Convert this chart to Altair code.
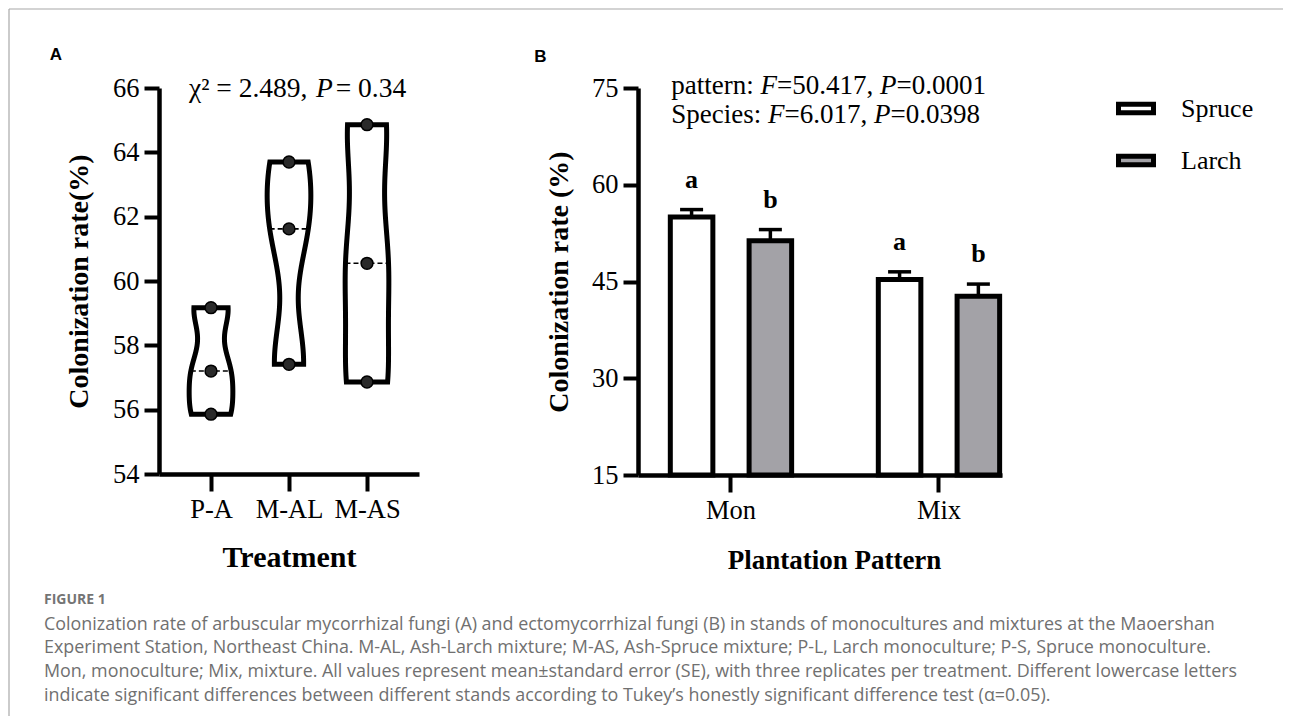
import json
import altair as alt
import pandas as pd

# ---------------- data ----------------
# Panel A: colonization rate (%) of arbuscular mycorrhizal fungi, three replicates per treatment
treatments = ["P-A", "M-AL", "M-AS"]
pa_vals = [55.86, 57.2, 59.17]
mal_vals = [57.41, 61.62, 63.7]
mas_vals = [56.86, 60.55, 64.86]
a_ticks = [54, 56, 58, 60, 62, 64, 66]
chi2_text = "2.489"
chi2_p = "0.34"

# Panel B: ectomycorrhizal colonization (mean, SE)
patterns = ["Mon", "Mix"]
species = ["Spruce", "Larch"]
spruce_mean = [55.0, 45.3]
spruce_se = [1.15, 1.2]
larch_mean = [51.3, 42.7]
larch_se = [1.75, 1.9]
spruce_letters = ["a", "a"]
larch_letters = ["b", "b"]
b_ticks = [15, 30, 45, 60, 75]
pattern_F, pattern_P = "50.417", "0.0001"
species_F, species_P = "6.017", "0.0398"

caption_head = "FIGURE 1"
caption_lines = [
    "Colonization rate of arbuscular mycorrhizal fungi (A) and ectomycorrhizal fungi (B) in stands of monocultures and mixtures at the Maoershan",
    "Experiment Station, Northeast China. M-AL, Ash-Larch mixture; M-AS, Ash-Spruce mixture; P-L, Larch monoculture; P-S, Spruce monoculture.",
    "Mon, monoculture; Mix, mixture. All values represent mean\u00b1standard error (SE), with three replicates per treatment. Different lowercase letters",
    "indicate significant differences between different stands according to Tukey\u2019s honestly significant difference test (\u03b1=0.05).",
]

# ---------------- styling helpers ----------------
SERIF = "Liberation Serif"
SANS = "Liberation Sans"
one = pd.DataFrame({"k": [0]})

# approximate Times / Liberation Serif advance widths (em/1000) for inline annotation pieces
_W = {" ": 250, ",": 250, ".": 250, ":": 278, "=": 564, "\u00b2": 300, "\u03c7": 500,
      "S": 556, "a": 444, "c": 444, "e": 444, "i": 278, "n": 500, "p": 500, "r": 333,
      "s": 389, "t": 278}
_W_IT = {"F": 611, "P": 611}


def text_width(s, size, italic=False):
    table = _W_IT if italic else _W
    return sum(table.get(ch, 500) for ch in s) * size / 1000.0


def txt(text, x, y, size, font=SERIF, weight="normal", style="normal", align="left",
        baseline="alphabetic", color="black", line_height=None):
    kw = dict(font=font, fontSize=size, fontWeight=weight, fontStyle=style, align=align,
              baseline=baseline, color=color)
    if line_height:
        kw["lineHeight"] = line_height
    return alt.Chart(one).mark_text(**kw).encode(
        x=alt.value(x), y=alt.value(y), text=alt.value(text))


def inline(pieces, x0, y, size, italic_gap=0.0):
    """pieces: list of (text, italic). Lay them out left to right."""
    out, x = [], x0
    for s, it in pieces:
        out.append(txt(s, x, y, size, style="italic" if it else "normal"))
        x += text_width(s, size, it) + (italic_gap if it else 0.0)
    return out


def y_axis(title, values, tp):
    return alt.Axis(title=title, values=values, grid=False, format="d",
                    domainColor="black", domainWidth=4.5,
                    tickColor="black", tickWidth=4, tickSize=15,
                    labelFont=SERIF, labelFontSize=26.5, labelColor="black", labelPadding=5,
                    titleFont=SERIF, titleFontSize=28, titleFontWeight="bold",
                    titleColor="black", titlePadding=tp)


def x_axis_common(**kw):
    return dict(grid=False, domainColor="black", domainWidth=4.5,
                tickColor="black", tickWidth=4, tickSize=17, labelAngle=0,
                labelFont=SERIF, labelFontSize=26.5, labelColor="black", labelPadding=5,
                labelOverlap=False, titleFont=SERIF, titleFontWeight="bold",
                titleColor="black", **kw)


# ---------------- Panel A (violins) ----------------
groups = [pa_vals, mal_vals, mas_vals]
dfA = pd.DataFrame([
    {"treatment": t, "idx": i + 1, "value": v}
    for i, (t, vals) in enumerate(zip(treatments, groups)) for v in vals
])

xA_scale = alt.Scale(domain=[1 / 3, len(treatments) + 2 / 3], nice=False, zero=False)
yA_scale = alt.Scale(domain=[a_ticks[0], a_ticks[-1]], nice=False, zero=False)
xA_axis = alt.Axis(values=list(range(1, len(treatments) + 1)),
                   labelExpr=f"{json.dumps(treatments)}[datum.value - 1]",
                   title="Treatment", titleFontSize=30, titlePadding=20,
                   **x_axis_common())
yA_axis = y_axis("Colonization rate(%)", a_ticks, 19)

HALF = 0.28
layersA = []
rulesA = []
for t, vals in zip(treatments, groups):
    lo, hi = min(vals), max(vals)
    bw = 0.22 * (hi - lo)
    base = (alt.Chart(dfA)
            .transform_filter(alt.datum.treatment == t)
            .transform_joinaggregate(med="median(value)", groupby=["treatment", "idx"])
            .transform_density("value", groupby=["treatment", "idx", "med"], extent=[lo, hi],
                               steps=240, bandwidth=bw, as_=["value", "density"])
            .transform_joinaggregate(dmax="max(density)")
            .transform_calculate(left=f"datum.idx - datum.density / datum.dmax * {HALF}",
                                 right=f"datum.idx + datum.density / datum.dmax * {HALF}"))
    area = base.mark_area(orient="horizontal", fill="white", stroke="black",
                          strokeWidth=5).encode(
        y=alt.Y("value:Q", scale=yA_scale, axis=yA_axis),
        x=alt.X("left:Q", scale=xA_scale, axis=xA_axis),
        x2="right:Q")
    med = (base.transform_calculate(dist="abs(datum.value - datum.med)")
           .transform_joinaggregate(mind="min(dist)")
           .transform_filter("datum.dist == datum.mind")
           .mark_rule(color="black", strokeWidth=1.6, strokeDash=[5, 3])
           .encode(y=alt.Y("med:Q", scale=yA_scale, axis=yA_axis),
                   x=alt.X("left:Q", scale=xA_scale, axis=xA_axis),
                   x2="right:Q"))
    layersA.append(area)
    rulesA.append(med)

pointsA = alt.Chart(dfA).mark_point(filled=True, fill="#2a2a2a", stroke="black",
                                    strokeWidth=1.5, size=140, opacity=1).encode(
    x=alt.X("idx:Q", scale=xA_scale, axis=xA_axis),
    y=alt.Y("value:Q", scale=yA_scale, axis=yA_axis))

annA = inline([("\u03c7\u00b2 = " + chi2_text + ", ", False), ("P", True),
               (" = " + chi2_p, False)], 30, 9.4, 27.5, italic_gap=3)
annA.append(txt("A", -103, -33, 17, font=SANS, weight="bold", align="center",
                baseline="middle"))

frame = [
    alt.Chart(one).mark_rule(color="#a8a8a8", strokeWidth=1.2).encode(
        x=alt.value(-150), x2=alt.value(1124), y=alt.value(-79)),
    alt.Chart(one).mark_rule(color="#a8a8a8", strokeWidth=1.2).encode(
        x=alt.value(-150), y=alt.value(-79), y2=alt.value(628)),
]

caption = [
    txt(caption_head, -115, 512, 14, font="Open Sans", weight="bold", baseline="middle",
        color="#747474"),
    txt(caption_lines, -115, 541.5, 17.9, font="Open Sans", color="#707070",
        line_height=23.7),
]

panelA = alt.layer(*layersA, *rulesA, pointsA, *annA, *frame, *caption).properties(
    width=260, height=386)

# ---------------- Panel B (bars) ----------------
rowsB = []
for j, p in enumerate(patterns):
    rowsB.append({"pattern": p, "species": species[0], "mean": spruce_mean[j],
                  "se": spruce_se[j], "letter": spruce_letters[j]})
    rowsB.append({"pattern": p, "species": species[1], "mean": larch_mean[j],
                  "se": larch_se[j], "letter": larch_letters[j]})
dfB = pd.DataFrame(rowsB)

yB_scale = alt.Scale(domain=[b_ticks[0], b_ticks[-1]], nice=False, zero=False)
yB_axis = y_axis("Colonization rate (%)", b_ticks, 18)
xB_axis = alt.Axis(title="Plantation Pattern", titleFontSize=27, titlePadding=24,
                   titleX=196, **x_axis_common())
xB = alt.X("pattern:N", sort=patterns,
           scale=alt.Scale(paddingInner=0.394, paddingOuter=0.072, align=1), axis=xB_axis)
xoff = alt.XOffset("species:N", sort=species,
                   scale=alt.Scale(paddingInner=0.46, paddingOuter=0.03))

# legend is lifted to the top level of the concat: legendX/Y are measured from panel A's origin
legendB = alt.Legend(title=None, orient="none", legendX=957, legendY=0.5,
                     symbolType="M-1,-0.24L1,-0.24L1,0.24L-1,0.24Z", symbolSize=1225,
                     symbolStrokeColor="black", symbolStrokeWidth=5, symbolOpacity=1,
                     labelFont=SERIF, labelFontSize=26, labelColor="black",
                     labelOffset=25, rowPadding=17)

baseB = alt.Chart(dfB).transform_calculate(upper="datum.mean + datum.se")

errB = baseB.mark_rule(color="black", strokeWidth=3.5).encode(
    x=xB, xOffset=xoff,
    y=alt.Y("mean:Q", scale=yB_scale, axis=yB_axis), y2="upper:Q")
barsB = baseB.mark_bar(stroke="black", strokeWidth=5).encode(
    x=xB, xOffset=xoff,
    y=alt.Y("mean:Q", scale=yB_scale, axis=yB_axis),
    y2=alt.datum(b_ticks[0]),
    fill=alt.Fill("species:N", sort=species,
                  scale=alt.Scale(domain=species, range=["white", "#a3a2a7"]),
                  legend=legendB))
capB = baseB.mark_tick(color="black", thickness=3.5, size=23, opacity=1).encode(
    x=xB, xOffset=xoff, y=alt.Y("upper:Q", scale=yB_scale, axis=yB_axis))
lettersB = baseB.mark_text(font=SERIF, fontWeight="bold", fontSize=26,
                           baseline="alphabetic", dy=-22, color="black").encode(
    x=xB, xOffset=xoff, y=alt.Y("upper:Q", scale=yB_scale, axis=yB_axis),
    text="letter:N")

annB = (inline([("pattern: ", False), ("F", True), ("=" + pattern_F + ", ", False),
                ("P", True), ("=" + pattern_P, False)], 33.3, 6.0, 27)
        + inline([("Species: ", False), ("F", True), ("=" + species_F + ", ", False),
                  ("P", True), ("=" + species_P, False)], 33.3, 35.0, 27))
annB.append(txt("B", -97.7, -31, 17, font=SANS, weight="bold", align="center",
                baseline="middle"))

panelB = alt.layer(errB, barsB, capB, lettersB, *annB).properties(width=364, height=387)

chart = (alt.hconcat(panelA, panelB, spacing=219, bounds="flush")
         .properties(padding=0)
         .configure_view(stroke=None))

chart.save("out.html", embed_options={"renderer": "svg", "actions": False})
